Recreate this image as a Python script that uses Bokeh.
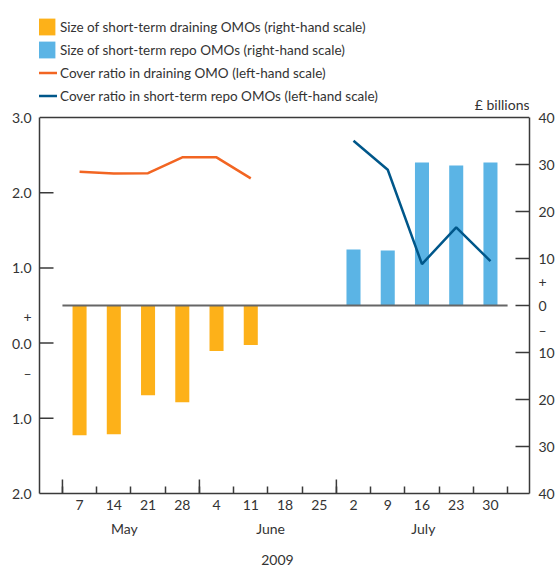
from bokeh.plotting import figure
from bokeh.models import (Range1d, LinearAxis, FixedTicker, Label, Legend,
                          LegendItem, Span)
from bokeh.embed import file_html
from bokeh.resources import INLINE

# ---------------- data ----------------
days = ["7", "14", "21", "28", "4", "11", "18", "25", "2", "9", "16", "23", "30"]
months = ["May", "June", "July"]
year = "2009"

draining_size = [27.6, 27.4, 19.1, 20.6, 9.7, 8.4]          # £bn, weeks 7 May - 11 June (drawn below zero)
draining_cover = [2.28, 2.255, 2.26, 2.47, 2.47, 2.19]       # left-hand scale

repo_size = [11.9, 11.7, 30.4, 29.8, 30.4]                   # £bn, weeks 2 July - 30 July
repo_cover = [2.69, 2.305, 1.05, 1.54, 1.09]                 # left-hand scale

left_ticks = [3, 2, 1, 0, -1, -2]
left_labels = ["3.0", "2.0", "1.0", "0.0", "1.0", "2.0"]
right_ticks = [40, 30, 20, 10, 0, -10, -20, -30, -40]
right_labels = ["40", "30", "20", "10", "0", "10", "20", "30", "40"]

# ---------------- styling / layout ----------------
FONT = "Lato"
FS = "14px"
FS_LEG = "13.5px"
TXT = "#333333"
AX = "#3a3a3a"
ORANGE_BAR = "#FDB119"
BLUE_BAR = "#5BB4E5"
ORANGE_LINE = "#F26522"
BLUE_LINE = "#00578A"
PLUS, MINUS = "+", "–"

W, H = 558, 570
LEFT, RIGHT, BOTTOM = 39, 29, 77          # borders in px (frame reaches the top)
FRAME_W = W - LEFT - RIGHT
FRAME_H = H - BOTTOM
X0, X1 = -1.17, 13.14
PX_PER_UNIT_R = 188 / 40.0                 # right-hand scale px per £bn
Y_TOP = -40 + FRAME_H / PX_PER_UNIT_R
L_TOP = (Y_TOP + 8) / 16.0                 # left-hand scale = (right + 8) / 16
TICK_X = 14 * (X1 - X0) / FRAME_W          # 14 px in x data units

n = len(days)
dr_x = list(range(len(draining_size)))
rp_x = list(range(n - len(repo_size), n))

p = figure(width=W, height=H, output_backend="svg", toolbar_location=None,
           x_range=Range1d(X0, X1), y_range=Range1d(-40, Y_TOP),
           x_axis_location=None, y_axis_location=None,
           min_border_left=LEFT, min_border_right=RIGHT,
           min_border_top=0, min_border_bottom=BOTTOM)
p.extra_y_ranges = {"left": Range1d(-2, L_TOP)}
p.grid.visible = False
p.outline_line_color = None
p.background_fill_color = "white"
p.border_fill_color = "white"


def style(ax):
    ax.axis_line_color = AX
    ax.axis_line_width = 1.5
    ax.major_tick_line_color = AX
    ax.major_tick_line_width = 1.5
    ax.minor_tick_line_color = AX
    ax.minor_tick_line_width = 1.5
    ax.major_label_text_font = FONT
    ax.major_label_text_font_size = FS
    ax.major_label_text_color = TXT


# left axis (ticks drawn as inward segments below; +/- signs as extra labels)
l_over = {float(t): l for t, l in zip(left_ticks, left_labels)}
l_over.update({0.357: PLUS, -0.40: MINUS})
lax = LinearAxis(y_range_name="left", ticker=FixedTicker(ticks=left_ticks + [0.357, -0.40]),
                 major_label_overrides=l_over, bounds=(-2, 3),
                 major_tick_in=0, major_tick_out=0, minor_tick_in=0, minor_tick_out=0,
                 major_label_standoff=8)
style(lax)
p.add_layout(lax, "left")

r_over = {float(t): l for t, l in zip(right_ticks, right_labels)}
r_over.update({5.1: PLUS, -5.3: MINUS})
rax = LinearAxis(ticker=FixedTicker(ticks=right_ticks + [5.1, -5.3]),
                 major_label_overrides=r_over, bounds=(-40, 40),
                 major_tick_in=0, major_tick_out=0, minor_tick_in=0, minor_tick_out=0,
                 major_label_standoff=9)
style(rax)
p.add_layout(rax, "right")

# bottom axes: days, months, year
bax = LinearAxis(ticker=FixedTicker(ticks=list(range(n)),
                                    minor_ticks=[i - 0.5 for i in range(n + 1)]),
                 major_label_overrides={float(i): d for i, d in enumerate(days)},
                 major_tick_in=0, major_tick_out=0, minor_tick_in=7, minor_tick_out=0,
                 major_label_standoff=6)
style(bax)
p.add_layout(bax, "below")

month_x = [1.31, 5.58, 10.04]
max_ = LinearAxis(ticker=FixedTicker(ticks=month_x, minor_ticks=[]),
                  major_label_overrides={float(x): m for x, m in zip(month_x, months)},
                  axis_line_color=None, major_tick_line_color=None, minor_tick_line_color=None,
                  major_label_standoff=1)
max_.major_label_text_font = FONT
max_.major_label_text_font_size = FS
max_.major_label_text_color = TXT
p.add_layout(max_, "below")

year_x = [5.78]
yax = LinearAxis(ticker=FixedTicker(ticks=year_x, minor_ticks=[]),
                 major_label_overrides={year_x[0]: year},
                 axis_line_color=None, major_tick_line_color=None, minor_tick_line_color=None,
                 major_label_standoff=9)
yax.major_label_text_font = FONT
yax.major_label_text_font_size = FS
yax.major_label_text_color = TXT
p.add_layout(yax, "below")

# top border of the chart box
p.add_layout(Span(location=40, dimension="width", line_color=AX, line_width=1.5))

# inward ticks on left and right scales
lt = [2, 1, 0, -1]
p.segment(x0=[X0] * len(lt), x1=[X0 + TICK_X] * len(lt), y0=lt, y1=lt,
          y_range_name="left", line_color=AX, line_width=1.5)
rt = [30, 20, 10, 0, -10, -20, -30]
p.segment(x0=[X1 - TICK_X] * len(rt), x1=[X1] * len(rt), y0=rt, y1=rt,
          line_color=AX, line_width=1.5)

# long ticks at month boundaries
month_bounds = [-0.5, 3.5, 7.5]
p.segment(x0=month_bounds, x1=month_bounds, y0=[-40] * 3,
          y1=[-40 + 14 / PX_PER_UNIT_R] * 3, line_color=AX, line_width=1.5)

# bars
r_dr = p.vbar(x=dr_x, top=0, bottom=[-v for v in draining_size], width=0.41,
              fill_color=ORANGE_BAR, line_color=None)
r_rp = p.vbar(x=rp_x, top=repo_size, bottom=0, width=0.41,
              fill_color=BLUE_BAR, line_color=None)

# zero line
p.line(x=[-0.5, n - 0.5], y=[0, 0], line_color="#666666", line_width=2)

# cover ratio lines
r_dl = p.line(x=dr_x, y=draining_cover, y_range_name="left",
              line_color=ORANGE_LINE, line_width=2.5)
r_rl = p.line(x=rp_x, y=repo_cover, y_range_name="left",
              line_color=BLUE_LINE, line_width=2.5)

# legend (inside the extended frame, above the chart box)
legend = Legend(items=[
    LegendItem(label="Size of short-term draining OMOs (right-hand scale)", renderers=[r_dr]),
    LegendItem(label="Size of short-term repo OMOs (right-hand scale)", renderers=[r_rp]),
    LegendItem(label="Cover ratio in draining OMO (left-hand scale)", renderers=[r_dl]),
    LegendItem(label="Cover ratio in short-term repo OMOs (left-hand scale)", renderers=[r_rl]),
], location=(-3, FRAME_H - 106), orientation="vertical", glyph_width=21, glyph_height=21,
    label_standoff=3, spacing=2, padding=0, margin=0,
    border_line_color=None, background_fill_alpha=0,
    label_text_font=FONT, label_text_font_size=FS_LEG, label_text_color=TXT)
p.add_layout(legend)

p.add_layout(Label(x=X1, y=40 + 13 / PX_PER_UNIT_R, text="£ billions", text_align="right",
                   text_baseline="middle", text_font=FONT, text_font_size=FS, text_color=TXT))

open("out.html", "w").write(file_html(p, INLINE))
